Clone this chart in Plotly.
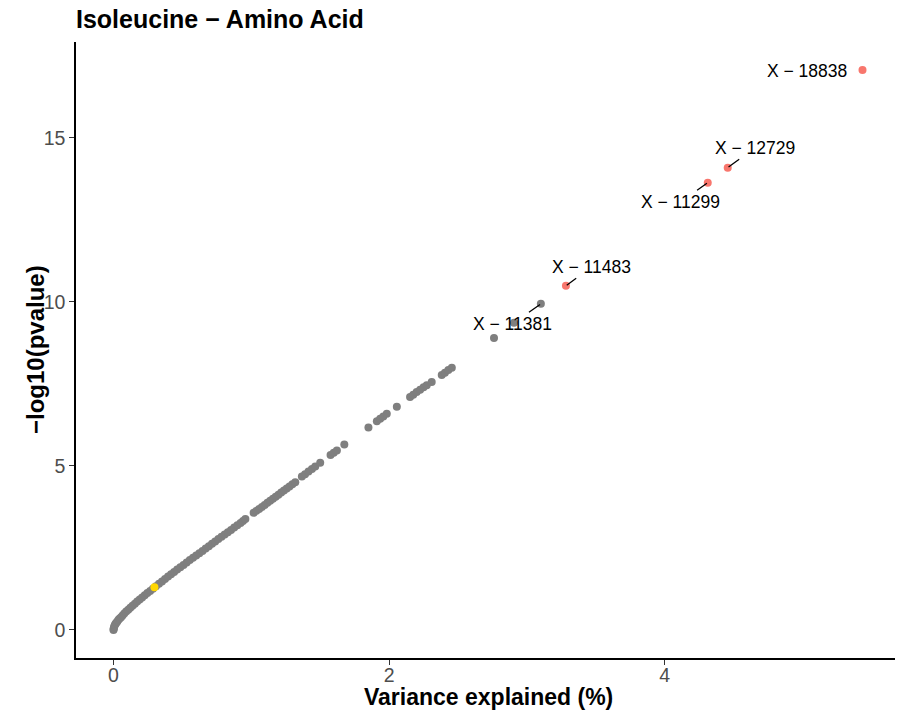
import plotly.graph_objects as go

# ---- data ----
gray_x = [0.000, 0.001, 0.003, 0.006, 0.010, 0.015, 0.021, 0.028, 0.036, 0.045,
          0.055, 0.066, 0.078, 0.092, 0.107, 0.122, 0.138, 0.155, 0.172, 0.190,
          0.208, 0.227, 0.246, 0.266, 0.286, 0.308, 0.330, 0.352, 0.374, 0.396,
          0.418, 0.440, 0.462, 0.485, 0.508, 0.531, 0.554, 0.577, 0.600, 0.623,
          0.646, 0.669, 0.692, 0.715, 0.738, 0.761, 0.784, 0.807, 0.830, 0.853,
          0.876, 0.899, 0.922, 0.940, 0.957,
          1.017, 1.037, 1.057, 1.077, 1.097, 1.117, 1.137, 1.157, 1.177, 1.197,
          1.217, 1.237, 1.257, 1.277, 1.298, 1.319,
          1.367, 1.390, 1.415, 1.440, 1.464, 1.500,
          1.575, 1.598, 1.621, 1.675,
          1.850, 1.911, 1.935, 1.958, 1.983, 2.056,
          2.152, 2.175, 2.200, 2.225, 2.250, 2.273, 2.309,
          2.382, 2.405, 2.430, 2.455,
          2.761, 2.906, 3.101]
gray_y = [0.00, 0.03, 0.07, 0.11, 0.15, 0.19, 0.22, 0.26, 0.31, 0.35,
          0.39, 0.44, 0.50, 0.56, 0.62, 0.68, 0.74, 0.80, 0.87, 0.93,
          0.99, 1.06, 1.13, 1.19, 1.26, 1.33, 1.41, 1.48, 1.55, 1.63,
          1.70, 1.77, 1.84, 1.91, 1.98, 2.06, 2.13, 2.20, 2.27, 2.34,
          2.41, 2.48, 2.55, 2.63, 2.70, 2.77, 2.84, 2.91, 2.98, 3.05,
          3.12, 3.19, 3.26, 3.32, 3.38,
          3.57, 3.63, 3.69, 3.75, 3.81, 3.88, 3.94, 4.00, 4.06, 4.12,
          4.19, 4.25, 4.31, 4.37, 4.44, 4.50,
          4.68, 4.75, 4.83, 4.91, 4.98, 5.10,
          5.33, 5.40, 5.47, 5.65,
          6.17, 6.36, 6.44, 6.51, 6.59, 6.80,
          7.10, 7.17, 7.25, 7.32, 7.40, 7.46, 7.56,
          7.77, 7.84, 7.92, 7.99,
          8.90, 9.36, 9.94]

yellow_x = [0.297]
yellow_y = [1.30]

red_x = [3.283, 4.312, 4.457, 5.435]
red_y = [10.49, 13.63, 14.09, 17.07]

label_names = ["X − 11381", "X − 11483", "X − 11299", "X − 12729", "X − 18838"]
label_x = [3.101, 3.283, 4.312, 4.457, 5.435]
label_y = [9.94, 10.49, 13.63, 14.09, 17.07]

x_ticks = [0, 2, 4]
y_ticks = [0, 5, 10, 15]

FONT = "Liberation Sans, Arial, Helvetica, sans-serif"

# The page body adds an 8px margin, so the figure is 8px smaller and all
# layout positions below are given relative to that shifted origin.
W, H = 895, 708

fig = go.Figure()
marker_size = 8
fig.add_trace(go.Scatter(x=gray_x, y=gray_y, mode="markers",
                         marker=dict(color="#7f7f7f", size=marker_size, line=dict(width=0)),
                         hoverinfo="x+y", showlegend=False))
fig.add_trace(go.Scatter(x=yellow_x, y=yellow_y, mode="markers",
                         marker=dict(color="#FFD700", size=marker_size, line=dict(width=0)),
                         showlegend=False))
fig.add_trace(go.Scatter(x=red_x, y=red_y, mode="markers",
                         marker=dict(color="#F8766D", size=marker_size, line=dict(width=0)),
                         showlegend=False))

# label offsets in pixels (ax, ay) relative to the point
offsets = [(-28, 20), (26, -19), (-27, 19), (27, -20)]
for name, lx, ly, (ax, ay) in zip(label_names[:4], label_x[:4], label_y[:4], offsets):
    fig.add_annotation(x=lx, y=ly, text=name, showarrow=True, arrowhead=0,
                       arrowwidth=1.3, arrowcolor="black", ax=ax, ay=ay,
                       standoff=1, font=dict(family=FONT, size=17.5, color="black"))
fig.add_annotation(x=label_x[4], y=label_y[4], text=label_names[4], showarrow=False,
                   xanchor="right", yanchor="middle", xshift=-14, yshift=-1,
                   font=dict(family=FONT, size=17.5, color="black"))

# axis titles
fig.add_annotation(x=0.5, y=0, xref="paper", yref="paper", text="<b>Variance explained (%)</b>",
                   showarrow=False, xanchor="center", yanchor="middle", yshift=-39,
                   font=dict(family=FONT, size=23, color="black"))
fig.add_annotation(x=0, y=0.5, xref="paper", yref="paper", text="<b>−log10(pvalue)</b>",
                   showarrow=False, textangle=-90, xanchor="center", yanchor="middle",
                   xshift=-41, font=dict(family=FONT, size=24, color="black"))

axis_common = dict(showgrid=False, zeroline=False, showline=True, linecolor="black",
                   linewidth=1.5, ticks="outside", ticklen=5, tickwidth=1.3,
                   tickcolor="#333333", tickfont=dict(family=FONT, size=19.5, color="#4D4D4D"),
                   mirror=False, automargin=False)

fig.update_layout(
    width=W, height=H,
    paper_bgcolor="white", plot_bgcolor="white",
    margin=dict(l=68, r=3, t=34, b=58, autoexpand=False),
    title=dict(text="<b>Isoleucine − Amino Acid</b>", x=68 / W, xref="container", xanchor="left",
               y=1 - 11 / H, yref="container", yanchor="middle", automargin=False,
               font=dict(family=FONT, size=25, color="black")),
    xaxis=dict(range=[-0.272, 5.707], tickvals=x_ticks, ticklabelstandoff=-6, **axis_common),
    yaxis=dict(range=[-0.854, 17.92], tickvals=y_ticks, **axis_common),
)

fig.write_html("out.html")
